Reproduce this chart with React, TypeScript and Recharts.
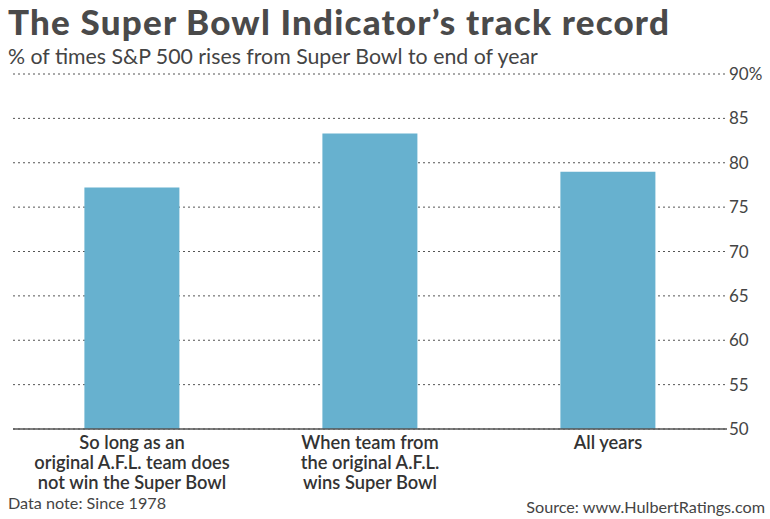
import React from "react";
import { BarChart, Bar, XAxis, YAxis, CartesianGrid } from "recharts";

const categories = ["A", "B", "C"];
const labelLines = [
  ["So long as an", "original A.F.L. team does", "not win the Super Bowl"],
  ["When team from", "the original A.F.L.", "wins Super Bowl"],
  ["All years"],
];
const values = [77.2, 83.3, 79.0];
const yTicks = [50, 55, 60, 65, 70, 75, 80, 85, 90];

const data = categories.map((c, i) => ({ cat: c, value: values[i], idx: i }));

const FONT = "Lato, 'Noto Sans', sans-serif";

const XTick = (props: any) => {
  const { x, y, index } = props;
  const lines = labelLines[index] || [];
  return (
    <text x={x} y={y} textAnchor="middle" fill="#333" fontFamily={FONT} fontSize={18.3} fontWeight={600}>
      {lines.map((l, i) => (
        <tspan key={i} x={x} dy={i === 0 ? 12 : 20}>
          {l}
        </tspan>
      ))}
    </text>
  );
};

const YTick = (props: any) => {
  const { x, y, payload } = props;
  return (
    <text x={x} y={y} dy={6} textAnchor="start" fill="#444" fontFamily={FONT} fontSize={17}>
      {payload.value === 90 ? "90%" : payload.value}
    </text>
  );
};

export default function App() {
  return (
    <div style={{ position: "absolute", left: 0, top: 0, width: 770, height: 519, background: "#fff", fontFamily: FONT }}>
      <div style={{ position: "absolute", left: 8, top: 0, fontSize: 35, lineHeight: "42px", fontWeight: 900, letterSpacing: 1.2, color: "#4a4a4a", whiteSpace: "nowrap" }}>
        The Super Bowl Indicator’s track record
      </div>
      <div style={{ position: "absolute", left: 8, top: 43, fontSize: 21.3, color: "#444", whiteSpace: "nowrap" }}>
        % of times S&amp;P 500 rises from Super Bowl to end of year
      </div>
      <BarChart
        width={770}
        height={519}
        data={data}
        margin={{ top: 74, right: 0, left: 13, bottom: 20 }}
        barCategoryGap="30%"
      >
        <CartesianGrid vertical={false} stroke="#555" strokeDasharray="2 3" />
        <XAxis
          dataKey="cat"
          height={70}
          tick={<XTick />}
          tickLine={false}
          axisLine={{ stroke: "#555", strokeWidth: 1.5 }}
          interval={0}
        />
        <YAxis
          orientation="right"
          domain={[50, 90]}
          ticks={yTicks}
          width={43}
          axisLine={false}
          tickLine={false}
          tickSize={0}
          tick={<YTick />}
          allowDataOverflow
        />
        <Bar dataKey="value" fill="#67b1cf" isAnimationActive={false} />
      </BarChart>
      <div style={{ position: "absolute", left: 8, top: 493, fontSize: 16.2, color: "#444", whiteSpace: "nowrap" }}>
        Data note: Since 1978
      </div>
      <div style={{ position: "absolute", right: 5, top: 497, fontSize: 16.2, color: "#444", whiteSpace: "nowrap" }}>
        Source: www.HulbertRatings.com
      </div>
    </div>
  );
}
